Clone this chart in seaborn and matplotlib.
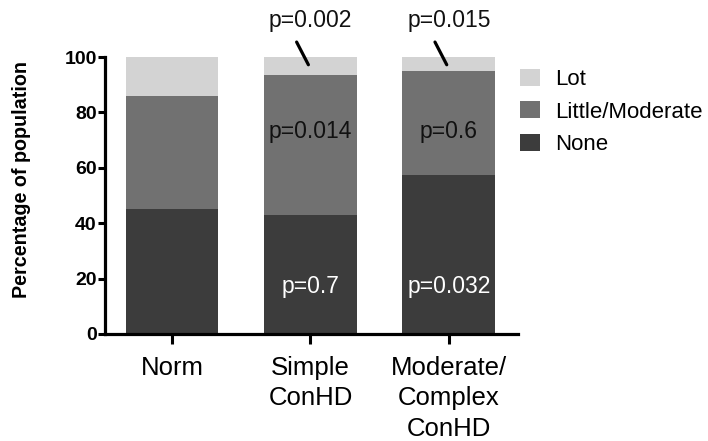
import matplotlib
matplotlib.use("Agg")
import matplotlib.pyplot as plt
import seaborn as sns
import numpy as np
import pandas as pd
from matplotlib.patches import Patch

categories = ["Norm", "Simple\nConHD", "Moderate/\nComplex\nConHD"]
none_vals = [45, 43, 57.5]
little_vals = [41, 50.5, 37.5]
lot_vals = [14, 6.5, 5]
series_names = ["Lot", "Little/Moderate", "None"]
colors = {"Lot": "#d3d3d3", "Little/Moderate": "#717171", "None": "#3c3c3c"}

inner_p = ["p=0.7", "p=0.032"]          # on None segments (Simple, Moderate)
middle_p = ["p=0.014", "p=0.6"]         # on Little/Moderate segments
top_p = ["p=0.002", "p=0.015"]          # for Lot segments

sns.set_theme(style="white")
plt.rcParams["font.family"] = ["Liberation Sans", "DejaVu Sans"]
plt.rcParams["text.color"] = "black"
plt.rcParams["axes.labelcolor"] = "black"
plt.rcParams["xtick.color"] = "black"
plt.rcParams["ytick.color"] = "black"

fig = plt.figure(figsize=(7.08, 4.41), dpi=100)
ax = fig.add_axes([105/708, 1-334/441, (518-105)/708, (334-57)/441])

none_arr = np.array(none_vals)
little_arr = np.array(little_vals)
lot_arr = np.array(lot_vals)
df = pd.DataFrame({
    "cat": categories,
    "Lot": none_arr + little_arr + lot_arr,
    "Little/Moderate": none_arr + little_arr,
    "None": none_arr,
})

for name in series_names:
    sns.barplot(data=df, x="cat", y=name, color=colors[name], width=0.67,
                saturation=1, ax=ax, edgecolor="none", linewidth=0)

ax.set_xlim(-0.485, 2.5)
ax.set_ylim(0, 100)
ax.set_yticks([0, 20, 40, 60, 80, 100])
ax.set_xlabel("")
ax.set_ylabel("Percentage of population", fontsize=14.2, fontweight="bold")
ax.yaxis.set_label_coords(-0.178, 0.556)

for s in ["top", "right"]:
    ax.spines[s].set_visible(False)
for s in ["left", "bottom"]:
    ax.spines[s].set_linewidth(2.3)
    ax.spines[s].set_color("black")
ax.tick_params(axis="y", length=5, width=2.2, labelsize=14, pad=1, color="black",
               labelcolor="black", left=True)
ax.tick_params(axis="x", length=7, width=2.2, labelsize=18.5, pad=9, color="black",
               labelcolor="black", bottom=True)
for lab in ax.get_yticklabels():
    lab.set_fontweight("bold")
for lab in ax.get_xticklabels():
    lab.set_linespacing(1.33)

# p-values
for i, t in enumerate(inner_p):
    ax.text(1 + i, 17, t, color="white", fontsize=16.5, ha="center", va="center")
for i, t in enumerate(middle_p):
    ax.text(1 + i, 73, t, color="#111111", fontsize=16.5, ha="center", va="center")
for i, t in enumerate(top_p):
    ax.text(1 + i, 113, t, color="#111111", fontsize=16.5, ha="center", va="center",
            clip_on=False)
    ax.plot([0.9 + i, 0.985 + i], [105.4, 97.2], color="black", lw=2.3,
            solid_capstyle="round", clip_on=False)

handles = [Patch(facecolor=colors[n], edgecolor="none") for n in series_names]
fig.legend(handles, series_names, loc="upper left",
           bbox_to_anchor=(520/708, 1-69/441), frameon=False, fontsize=16,
           handlelength=0.9, handleheight=0.8, handletextpad=0.7,
           labelspacing=0.5, borderpad=0, borderaxespad=0)

fig.savefig("out.png", dpi=100)
